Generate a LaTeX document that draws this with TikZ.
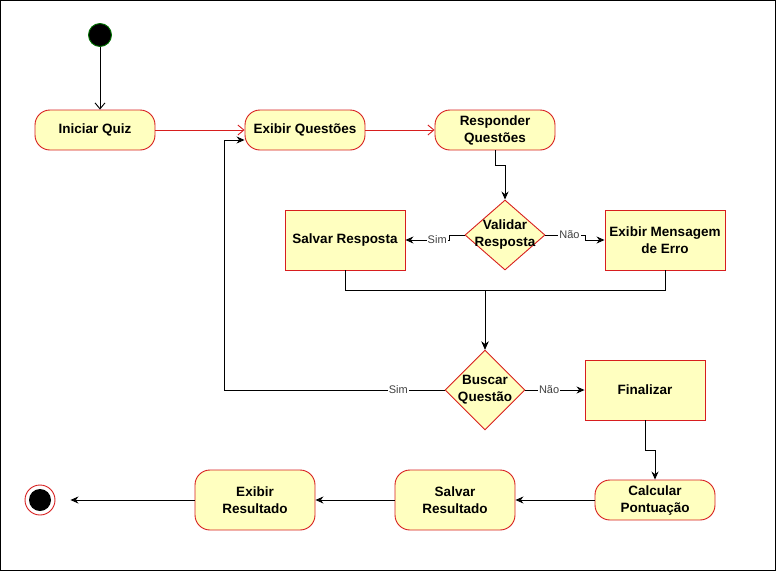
\documentclass[tikz,border=0pt]{standalone}
\usepackage{fontspec}
\setmainfont{Liberation Sans}
\usetikzlibrary{shapes.geometric,arrows.meta}
\definecolor{umlred}{RGB}{215,30,30}
\definecolor{umlyellow}{RGB}{255,255,192}

\begin{document}
\begin{tikzpicture}[x=1pt,y=-1pt,line width=0.9pt,
	font=\fontsize{13.5}{17}\selectfont\bfseries,
	act/.style={draw=umlred,fill=umlyellow,rounded corners=15pt,
		minimum width=120pt,minimum height=40pt,align=center},
	box/.style={draw=umlred,fill=umlyellow,
		minimum width=120pt,minimum height=60pt,align=center},
	decision/.style={draw=umlred,fill=umlyellow,diamond,inner sep=0pt,
		minimum width=80pt,minimum height=80pt},
	flow/.style={-{Stealth[length=8pt,width=7pt]}},
	open/.style={-{Straight Barb[length=6pt,width=10pt]}},
	yn/.style={font=\fontsize{11}{13}\selectfont,text=black!75,
		fill=white,inner sep=1pt}]
\useasboundingbox (0,0) rectangle (776,571);
\draw[line width=0.8pt] (0.5,0.5) rectangle (775.5,570.5);

% start / end
\node[circle,fill=black,draw=green!45!black,minimum size=23pt,inner sep=0pt]
	(inicio) at (100,35) {};
\node[circle,draw=umlred,fill=white,minimum size=30pt,inner sep=0pt]
	(fim) at (40,500) {};
\fill (fim) circle (11pt);

% activities
\node[act] (iniciar) at (95,130) {Iniciar Quiz};
\node[act] (exibirq) at (305,130) {Exibir Questões};
\node[act] (responder) at (495,130) {Responder\\Questões};
\node[box] (salvarr) at (345,240) {Salvar Resposta};
\node[box] (erro) at (665,240) {Exibir Mensagem\\de Erro};
\node[box] (final) at (645,390) {Finalizar};
\node[act] (calcular) at (655,500) {Calcular\\Pontuação};
\node[act,minimum height=60pt] (salvarres) at (455,500) {Salvar\\Resultado};
\node[act,minimum height=60pt] (exibirres) at (255,500) {Exibir\\Resultado};

% decisions
\node[decision,minimum height=70pt,
	label={[align=center]center:Validar\\Resposta}] (validar) at (505,235) {};
\node[decision,
	label={[align=center]center:Buscar\\Questão}] (buscar) at (485,390) {};

% flows
\draw[open] (inicio) -- (inicio |- iniciar.north);
\draw[open,umlred] (iniciar) -- (exibirq);
\draw[open,umlred] (exibirq) -- (responder);
\draw[flow] (responder.south) -- ++(0,15) -| (validar.north);
\draw[flow] (validar.west) -- ++(-15,0) |- node[yn,pos=0.64] {Sim} (salvarr.east);
\draw[flow] (validar.east) -- node[yn,pos=0.6] {Não} ++(40,0) |- (erro.west);
\draw[flow] (salvarr.south) -- ++(0,20) -| (buscar.north);
\draw[flow] (erro.south) -- ++(0,20) -| (buscar.north);
\draw[flow] (buscar.west) -- node[yn,pos=0.21] {Sim} ++(-220,0)
	|- ([yshift=-10pt]exibirq.west);
\draw[flow] (buscar.east) -- node[yn,pos=0.4] {Não} (final.west);
\draw[flow] (final.south) -- ++(0,30) -| (calcular.north);
\draw[flow] (calcular) -- (salvarres);
\draw[flow] (salvarres) -- (exibirres);
\draw[flow] (exibirres) -- ([xshift=15pt]fim.east);
\end{tikzpicture}
\end{document}
